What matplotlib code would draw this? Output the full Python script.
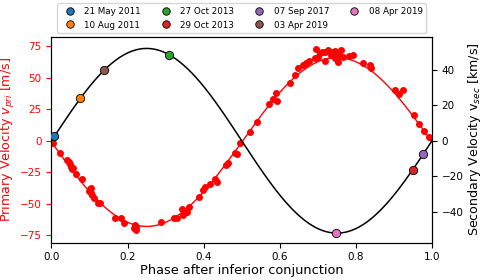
import numpy as np
import matplotlib
matplotlib.use("Agg")
import matplotlib.pyplot as plt

# Primary RV measurements (phase, m/s)
pri_phase = [0.003, 0.022, 0.041, 0.045, 0.049, 0.052, 0.054, 0.056, 0.064, 0.081,
             0.101, 0.104, 0.098, 0.103, 0.107, 0.111, 0.122, 0.128, 0.166, 0.183,
             0.190, 0.220, 0.221, 0.218, 0.223, 0.289, 0.321, 0.331, 0.342, 0.346,
             0.357, 0.362, 0.388, 0.398, 0.403, 0.416, 0.429, 0.434, 0.458, 0.464,
             0.483, 0.488, 0.495, 0.521, 0.539, 0.571, 0.582, 0.589, 0.592, 0.628,
             0.641, 0.649, 0.661, 0.670, 0.677, 0.692, 0.694, 0.700, 0.718, 0.720,
             0.728, 0.739, 0.746, 0.752, 0.757, 0.762, 0.766, 0.753, 0.783, 0.792,
             0.818, 0.837, 0.839, 0.902, 0.912, 0.923, 0.954, 0.965, 0.980, 0.993,
             0.705, 0.735, 0.745, 0.710]
pri_vel = [-2.0, -9.9, -15.2, -16.6, -18.7, -20.6, -22.6, -21.8, -26.6, -30.6,
           -38.3, -37.7, -39.8, -41.7, -43.0, -45.6, -49.6, -49.1, -61.0, -61.0,
           -65.0, -66.8, -70.8, -69.4, -68.4, -64.2, -60.9, -61.5, -54.4, -58.9,
           -56.3, -52.3, -44.4, -39.0, -36.7, -34.3, -30.2, -32.5, -19.2, -17.9,
           -9.7, -10.5, -2.0, 7.2, 15.2, 29.4, 33.4, 38.3, 31.8, 45.9,
           52.2, 57.5, 59.8, 61.5, 63.7, 66.0, 72.6, 66.1, 70.1, 63.2,
           72.1, 70.2, 71.3, 68.9, 67.3, 72.1, 66.5, 62.8, 67.1, 68.1,
           62.1, 59.8, 57.8, 40.3, 37.1, 40.1, 20.8, 13.2, 7.6, 3.3,
           69.5, 68.0, 66.0, 70.8]

# Secondary velocities at the observation epochs (phase, km/s)
sec_dates = ["21 May 2011", "10 Aug 2011", "27 Oct 2013", "29 Oct 2013",
             "07 Sep 2017", "03 Apr 2019", "08 Apr 2019"]
sec_phase = [0.007, 0.075, 0.310, 0.949, 0.977, 0.138, 0.749]
sec_vel = [2.7, 24.3, 48.5, -16.5, -7.4, 39.7, -52.1]

# orbit solution
K1, gamma1 = 67.0, -1.0   # m/s
K2 = 52.0                 # km/s

fig = plt.figure(figsize=(4.83, 2.8), dpi=100)
ax = fig.add_subplot(111)
fig.subplots_adjust(left=0.1066, right=0.8944, bottom=0.1332, top=0.8689)
ax2 = ax.twinx()

ph = np.linspace(0, 1, 400)
ax.plot(ph, gamma1 - K1 * np.sin(2 * np.pi * ph), color="red", lw=1)
ax.errorbar(pri_phase, pri_vel, yerr=1.5, fmt="o", color="red", ms=4, lw=1, zorder=3)

ax2.plot(ph, K2 * np.sin(2 * np.pi * ph), color="black", lw=1.1)
for i in range(len(sec_dates)):
    ax2.plot(sec_phase[i], sec_vel[i], "o", color=f"C{i}", mec="black", mew=0.6, ms=6,
             label=sec_dates[i], zorder=4)

ax.set_xlim(0, 1)
ax.set_ylim(-80.9, 82.6)
ax2.set_ylim(-57.4, 58.6)
ax.set_yticks([-75, -50, -25, 0, 25, 50, 75])
ax2.set_yticks([-40, -20, 0, 20, 40])

ax.tick_params(axis="y", colors="red", labelsize=7.5)
ax.tick_params(axis="x", labelsize=7.5)
ax2.tick_params(axis="y", labelsize=7.5)

ax.set_xlabel("Phase after inferior conjunction", fontsize=9.3, labelpad=1)
ax.set_ylabel("Primary Velocity $v_{pri}$ [m/s]", color="red", fontsize=9.1, labelpad=2)
ax2.set_ylabel("Secondary Velocity v$_{sec}$ [km/s]", fontsize=9.1, labelpad=2)

ax2.legend(loc="lower center", bbox_to_anchor=(0.5, 1.018), ncol=4, fontsize=6.3,
           frameon=True, borderaxespad=0, columnspacing=1.8, handletextpad=0.7,
           labelspacing=0.55, markerscale=0.9)

fig.savefig("out.png", dpi=100)
